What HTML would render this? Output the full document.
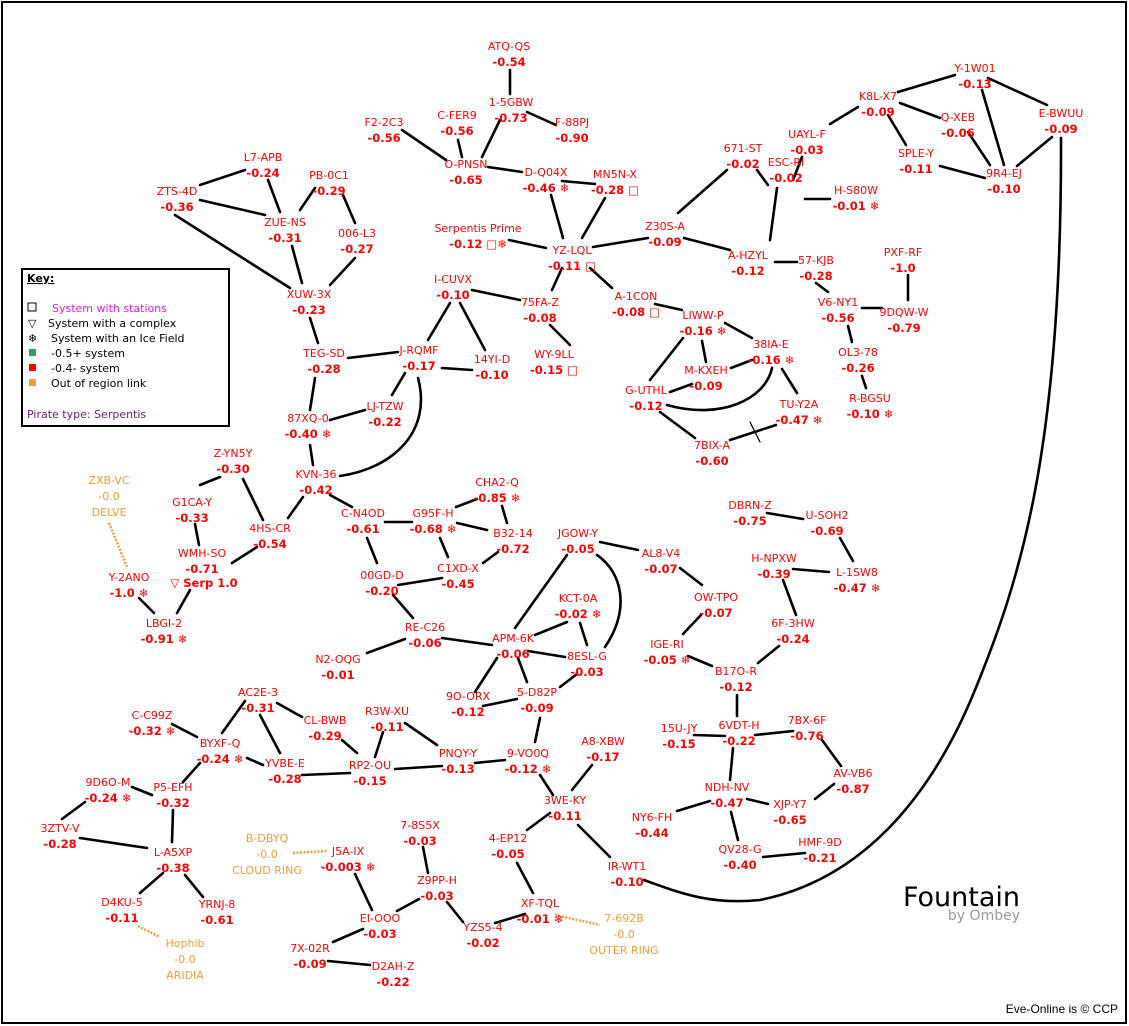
<!DOCTYPE html>
<html><head><meta charset="utf-8">
<style>
html,body{margin:0;padding:0;background:#fff;}
svg{display:block;}
.n{font-family:"DejaVu Sans","Liberation Sans",sans-serif;font-size:11px;fill:#ff0000;text-anchor:middle;}
.v{font-family:"DejaVu Sans","Liberation Sans",sans-serif;font-size:11.5px;font-weight:bold;fill:#ff0000;text-anchor:middle;}
.o{font-family:"DejaVu Sans","Liberation Sans",sans-serif;font-size:11px;fill:#f39c3a;text-anchor:middle;}
.k{font-family:"DejaVu Sans","Liberation Sans",sans-serif;font-size:11px;fill:#000;}
</style></head>
<body>
<svg id="s" width="1129" height="1026" xmlns="http://www.w3.org/2000/svg">
<rect x="2" y="2" width="1124" height="1021" fill="#fff" stroke="#000" stroke-width="2"/>
<g id="e" stroke="#000" stroke-width="2.6" fill="none" stroke-linecap="round">
<path d="M340,476 C395,468 432,430 418,378"/>
<path d="M667,405 C720,420 765,400 772,368"/>
<path d="M597,555 C623,573 630,610 605,647"/>
<path d="M1061,138 C1062,450 1020,580 975,690 C930,800 860,880 760,900 C710,905 680,893 644,880"/>
<line x1="750" y1="422" x2="760" y2="442" stroke-width="1.3"/>
</g>
<g id="d" stroke="#f39c3a" stroke-width="2.5" stroke-dasharray="2,1.5" fill="none"></g>
<g id="t"></g>
<rect x="22" y="269" width="207" height="157" fill="#fff" stroke="#000" stroke-width="2"/>
<text class="k" x="27" y="282" style="font-weight:bold;text-decoration:underline">Key:</text>
<rect x="28" y="303" width="8" height="8" fill="none" stroke="#000" stroke-width="1"/>
<text class="k" x="52" y="312" style="fill:#e020e0">System with stations</text>
<text class="k" x="28" y="327">▽</text><text class="k" x="48" y="327">System with a complex</text>
<text class="k" x="28" y="342">❄</text><text class="k" x="51" y="342">System with an Ice Field</text>
<rect x="29" y="349" width="7" height="7" fill="#3a9a6a"/><text class="k" x="51" y="357">-0.5+ system</text>
<rect x="29" y="364" width="7" height="7" fill="#ff0000"/><text class="k" x="51" y="372">-0.4- system</text>
<rect x="29" y="379" width="7" height="7" fill="#f39c3a"/><text class="k" x="51" y="387">Out of region link</text>
<text class="k" x="27" y="418" style="fill:#6a1a7a">Pirate type: Serpentis</text>
<text x="1020" y="906" text-anchor="end" style="font-family:'DejaVu Sans',sans-serif;font-size:27px;fill:#000">Fountain</text>
<text x="1020" y="920" text-anchor="end" style="font-family:'DejaVu Sans',sans-serif;font-size:14px;fill:#999">by Ombey</text>
<text x="1118" y="1013" text-anchor="end" style="font-family:'Liberation Sans',sans-serif;font-size:12px;fill:#000">Eve-Online is © CCP</text>
</svg>
<script>
var N=[
["ATQ-QS","-0.54",509,46],["1-5GBW","-0.73",511,102],["F-88PJ","-0.90",572,122],["C-FER9","-0.56",457,115],
["F2-2C3","-0.56",384,122],["O-PNSN","-0.65",466,164],["D-Q04X","-0.46 ❄",546,172],["MN5N-X","-0.28 □",615,174],
["671-ST","-0.02",743,148],["UAYL-F","-0.03",807,134],["K8L-X7","-0.09",878,96],["Y-1W01","-0.13",975,68],
["E-BWUU","-0.09",1061,113],["Q-XEB","-0.06",958,117],["SPLE-Y","-0.11",916,153],["9R4-EJ","-0.10",1004,173],
["ESC-RI","-0.02",786,162],["H-S80W","-0.01 ❄",856,190],["L7-APB","-0.24",263,157],["PB-0C1","-0.29",329,175],
["ZTS-4D","-0.36",177,191],["ZUE-NS","-0.31",285,222],["006-L3","-0.27",357,233],["Serpentis Prime","-0.12 □❄",478,228],
["YZ-LQL","-0.11 □",572,250],["Z30S-A","-0.09",665,226],["A-HZYL","-0.12",748,255],["57-KJB","-0.28",816,260],
["PXF-RF","-1.0",903,252],["9DQW-W","-0.79",904,312],["V6-NY1","-0.56",838,302],["OL3-78","-0.26",858,352],
["R-BGSU","-0.10 ❄",870,398],["XUW-3X","-0.23",309,294],["I-CUVX","-0.10",453,279],["75FA-Z","-0.08",540,302],
["A-1CON","-0.08 □",636,296],["LIWW-P","-0.16 ❄",703,315],["38IA-E","-0.16 ❄",771,344],["M-KXEH","-0.09",706,370],
["G-UTHL","-0.12",646,390],["TU-Y2A","-0.47 ❄",799,404],["7BIX-A","-0.60",712,445],["WY-9LL","-0.15 □",554,354],
["TEG-SD","-0.28",324,353],["J-RQMF","-0.17",419,350],["14YI-D","-0.10",492,359],["LJ-TZW","-0.22",385,406],
["87XQ-0","-0.40 ❄",308,418],["KVN-36","-0.42",316,474],["Z-YN5Y","-0.30",233,453],["G1CA-Y","-0.33",192,502],
["4HS-CR","-0.54",270,528],["WMH-SO","-0.71",202,553],["Y-2ANO","-1.0 ❄",129,577],["LBGI-2","-0.91 ❄",164,623],
["C-N4OD","-0.61",363,513],["G95F-H","-0.68 ❄",433,513],["CHA2-Q","-0.85 ❄",497,482],["B32-14","-0.72",513,533],
["C1XD-X","-0.45",458,568],["00GD-D","-0.20",382,575],["JGOW-Y","-0.05",578,533],["AL8-V4","-0.07",661,553],
["OW-TPO","-0.07",716,597],["DBRN-Z","-0.75",750,505],["U-SOH2","-0.69",827,515],["H-NPXW","-0.39",774,558],
["L-1SW8","-0.47 ❄",857,572],["6F-3HW","-0.24",793,623],["KCT-0A","-0.02 ❄",578,598],["RE-C26","-0.06",425,627],
["APM-6K","-0.06",513,638],["8ESL-G","-0.03",587,656],["IGE-RI","-0.05 ❄",667,644],["B17O-R","-0.12",736,671],
["N2-OQG","-0.01",338,659],["9O-ORX","-0.12",468,696],["5-D82P","-0.09",537,692],["AC2E-3","-0.31",258,692],
["CL-BWB","-0.29",325,720],["R3W-XU","-0.11",387,711],["C-C99Z","-0.32 ❄",152,715],["BYXF-Q","-0.24 ❄",220,743],
["YVBE-E","-0.28",285,763],["RP2-OU","-0.15",370,765],["PNQY-Y","-0.13",458,753],["9-VO0Q","-0.12 ❄",528,753],
["A8-XBW","-0.17",603,741],["15U-JY","-0.15",679,728],["6VDT-H","-0.22",739,725],["7BX-6F","-0.76",807,720],
["AV-VB6","-0.87",853,773],["9D6O-M","-0.24 ❄",108,782],["P5-EFH","-0.32",173,787],["NDH-NV","-0.47",727,787],
["XJP-Y7","-0.65",790,804],["NY6-FH","-0.44",652,817],["3WE-KY","-0.11",565,800],["3ZTV-V","-0.28",60,828],
["L-A5XP","-0.38",173,852],["4-EP12","-0.05",508,838],["QV28-G","-0.40",740,849],["HMF-9D","-0.21",820,842],
["IR-WT1","-0.10",627,866],["7-8S5X","-0.03",420,825],["J5A-IX","-0.003 ❄",348,851],["Z9PP-H","-0.03",437,880],
["D4KU-5","-0.11",122,902],["YRNJ-8","-0.61",217,904],["XF-TQL","-0.01 ❄",540,903],["EI-OOO","-0.03",380,918],
["YZS5-4","-0.02",483,927],["7X-02R","-0.09",310,948],["D2AH-Z","-0.22",393,966]
];
var O=[["ZXB-VC",109,480,"DELVE"],["B-DBYQ",267,838,"CLOUD RING"],["Hophib",185,943,"ARIDIA"],["7-692B",624,918,"OUTER RING"]];
var E=[[510,70,510,94],[527,112,556,125],[500,120,482,157],[458,140,462,157],[402,130,446,160],[488,167,522,172],
[562,181,595,184],[551,195,563,238],[605,198,582,238],[509,240,546,248],[593,247,648,238],[678,213,727,170],
[684,238,730,250],[590,268,612,288],[562,268,552,290],[757,170,768,185],[802,157,793,180],[805,199,830,199],
[777,188,770,240],[775,262,797,262],[816,283,828,292],[862,308,882,308],[908,275,908,300],[848,326,852,342],
[862,376,866,388],[830,124,858,107],[898,92,955,75],[888,115,906,145],[900,103,940,118],[988,78,1047,105],
[982,90,1004,165],[1052,137,1017,166],[968,132,990,165],[940,166,985,178],
[200,185,245,170],[200,200,265,215],[268,180,280,212],[315,188,300,210],[343,195,355,223],[175,215,290,288],
[292,246,302,283],[355,258,330,285],[310,318,318,343],[348,358,398,352],[428,340,450,303],[460,303,485,350],
[472,290,520,300],[442,368,472,370],[405,373,392,395],[315,378,310,410],[330,420,365,410],[310,445,313,465],
[550,325,570,345],[655,304,682,310],[725,323,752,338],[683,338,650,380],[702,341,706,362],[731,368,752,360],
[670,392,692,384],[782,369,797,393],[660,412,695,438],[730,440,776,425],
[200,485,220,477],[243,479,263,520],[303,497,288,518],[195,524,199,545],[257,547,232,563],[190,590,177,613],
[139,598,154,613],[330,495,352,507],
[385,522,412,522],[456,507,477,499],[502,506,507,523],[457,523,487,530],[440,538,448,557],[498,552,483,563],
[442,578,398,585],[367,538,377,563],[393,595,413,618],[405,639,367,653],[442,638,492,645],[515,628,567,555],
[600,542,638,550],[535,635,567,622],[580,623,587,645],[528,651,565,657],[497,658,475,692],[518,658,527,682],
[577,674,560,687],[483,706,517,699],
[767,513,803,519],[840,538,853,561],[793,569,829,572],[783,580,796,615],[680,568,702,585],[701,615,683,634],
[688,656,712,666],[779,646,758,663],[737,695,737,716],[694,735,725,736],[755,735,793,731],[822,740,841,766],
[733,748,730,780],[677,811,710,801],[747,799,768,804],[815,799,834,784],[731,812,738,840],[763,857,805,853],
[245,701,222,733],[277,703,302,717],[260,715,280,753],[342,740,357,753],[383,732,375,757],[405,723,437,745],
[395,769,442,766],[247,758,263,765],[302,775,350,773],
[172,724,197,737],[200,763,183,782],[132,787,152,795],[62,819,85,802],[173,810,172,842],[80,838,147,848],
[163,873,140,893],[185,875,203,897],[355,874,372,910],[423,847,428,873],[419,899,397,911],[447,902,463,922],
[495,923,525,914],[517,863,533,893],[363,929,333,942],[328,961,370,965],[527,830,550,813],[540,775,553,795],
[475,763,505,760],[540,718,535,742],[572,790,592,765],[578,825,610,857]];
var D=[[109,523,127,567],[138,926,160,937],[293,853,327,851],[555,915,600,925]];
var ns="http://www.w3.org/2000/svg";
function el(g,tag,a,txt){var e=document.createElementNS(ns,tag);for(var k in a)e.setAttribute(k,a[k]);if(txt!=null)e.textContent=txt;document.getElementById(g).appendChild(e);}
E.forEach(function(l){el("e","line",{x1:l[0],y1:l[1],x2:l[2],y2:l[3]});});
D.forEach(function(l){el("d","line",{x1:l[0],y1:l[1],x2:l[2],y2:l[3]});});
N.forEach(function(n){el("t","text",{"class":"n",x:n[2],y:n[3]+4},n[0]);el("t","text",{"class":"v",x:n[2],y:n[3]+20},n[1]);});
el("t","text",{"class":"v",x:204,y:587},"▽ Serp 1.0");
O.forEach(function(n){el("t","text",{"class":"o",x:n[1],y:n[2]+4},n[0]);el("t","text",{"class":"o",x:n[1],y:n[2]+20},"-0.0");el("t","text",{"class":"o",x:n[1],y:n[2]+36},n[3]);});
</script>
</body></html>
